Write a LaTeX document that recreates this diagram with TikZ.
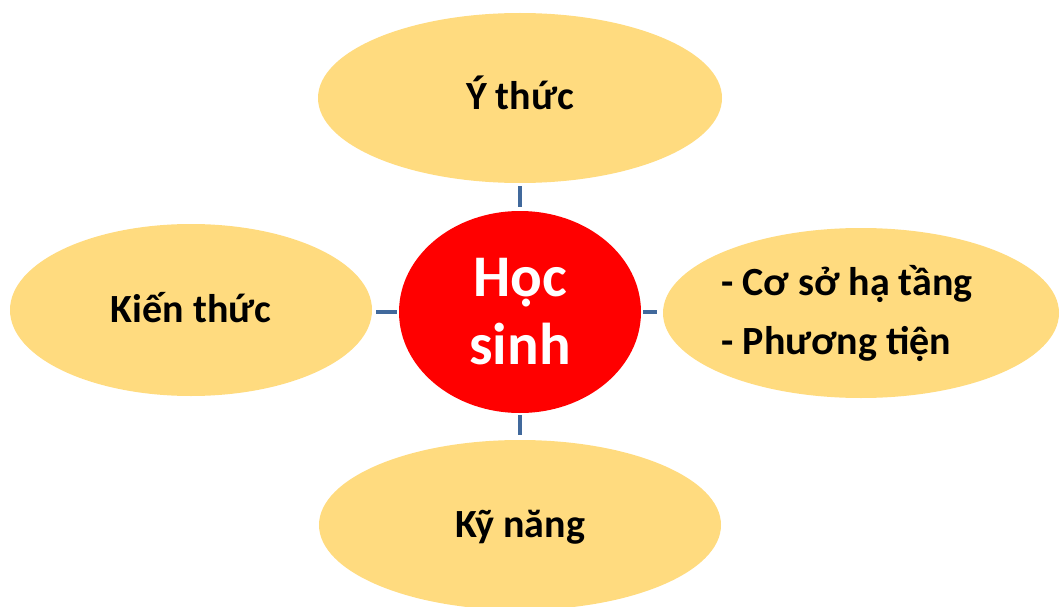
\documentclass[tikz,border=0pt]{standalone}
\usepackage{fontspec}
\setmainfont{Carlito}
\usetikzlibrary{shapes.geometric}
\definecolor{petalc}{HTML}{FFDB7F}
\definecolor{hubc}{HTML}{FF0000}
\definecolor{linkc}{HTML}{41699C}
\begin{document}
\begin{tikzpicture}[x=1pt,y=-1pt,
  petal/.style={ellipse, fill=petalc, inner sep=0pt, text height=32pt, text depth=8pt, font=\bfseries\fontsize{40}{48}\selectfont},
  hubnode/.style={ellipse, fill=hubc, inner sep=0pt, text=white, align=center, font=\bfseries\fontsize{59}{68}\selectfont},
  listtext/.style={inner sep=0pt, align=left, font=\bfseries\fontsize{40}{59}\selectfont},
  link/.style={draw=linkc, line width=4pt}]
\useasboundingbox (0,0) rectangle (1060,607);
\node[petal, minimum width=404pt, minimum height=170pt] (top) at (520,98) {Ý thức};
\node[petal, minimum width=362pt, minimum height=172pt] (left) at (191,310) {Kiến thức};
\node[petal, minimum width=396pt, minimum height=170pt] (right) at (861,313) {};
\node[petal, minimum width=402pt, minimum height=170pt] (bot) at (520,525) {Kỹ năng};
\node[hubnode, minimum width=242pt, minimum height=202pt] (hub) at (520,312) {Học\\sinh};
\node[listtext] (rtext) at (847,313) {- Cơ sở hạ tầng\\- Phương tiện};
\draw[link, shorten <=4pt, shorten >=3pt] (hub.north) -- (hub.north |- top.south);
\draw[link, shorten <=2pt, shorten >=5pt] (hub.south) -- (hub.south |- bot.north);
\draw[link, shorten <=2pt, shorten >=4pt] (hub.west) -- (hub.west -| left.east);
\draw[link, shorten <=2pt, shorten >=6pt] (hub.east) -- (hub.east -| right.west);
\end{tikzpicture}
\end{document}
